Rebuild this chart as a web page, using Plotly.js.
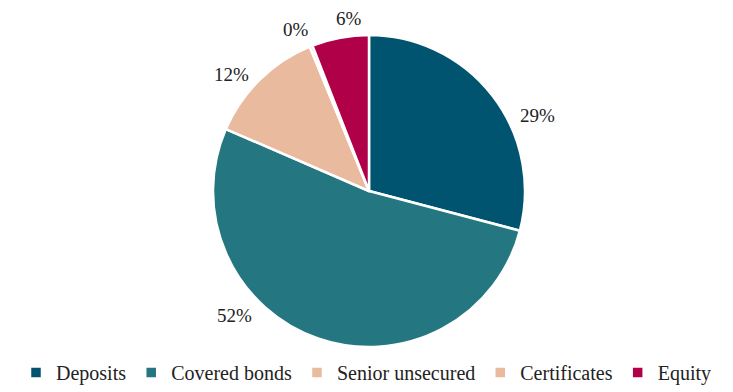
<!DOCTYPE html>
<html>
<head>
<meta charset="utf-8">
<script src="https://cdn.plot.ly/plotly-3.0.1.min.js"></script>
<style>html,body{margin:0;padding:0;background:#fff;}#chart{width:733px;height:392px;}</style>
</head>
<body>
<div id="chart"></div>
<script>
const categories = ["Deposits", "Covered bonds", "Senior unsecured", "Certificates", "Equity"];
const shares = [29.1, 52.4, 12.3, 0.3, 5.9];
const colors = ["#00546f", "#247780", "#e9ba9e", "#e9ba9e", "#b00048"];

// Label anchor positions (paper coordinates), one per slice, as in the reference layout
const labelX = [0.7308, 0.3146, 0.3118, 0.3997, 0.4725];
const labelY = [0.7404, 0.0994, 0.8718, 1.0192, 1.0513];

const FONT = "'Liberation Serif', 'Times New Roman', serif";
const total = shares.reduce((a, b) => a + b, 0);

const trace = {
  type: "pie",
  labels: categories,
  values: shares,
  sort: false,
  direction: "clockwise",
  rotation: 0,
  marker: {colors: colors, line: {color: "#ffffff", width: 2.5}},
  textinfo: "none",
  hoverinfo: "label+percent",
  automargin: false
};

const annotations = categories.map((c, i) => ({
  xref: "paper", yref: "paper",
  x: labelX[i], y: labelY[i],
  xanchor: "center", yanchor: "middle",
  text: Math.round(shares[i] / total * 100) + "%",
  showarrow: false,
  font: {family: FONT, size: 19, color: "#222222"}
}));

const layout = {
  width: 733,
  height: 392,
  margin: {l: 5, r: 0, t: 35, b: 45},
  paper_bgcolor: "#ffffff",
  showlegend: true,
  annotations: annotations,
  legend: {
    orientation: "h",
    xref: "container", yref: "container",
    x: 0.5, xanchor: "center",
    y: -0.026, yanchor: "bottom",
    font: {family: FONT, size: 20, color: "#222222"},
    itemwidth: 30,
    traceorder: "normal"
  }
};

Plotly.newPlot("chart", [trace], layout, {displayModeBar: false, staticPlot: true});
</script>
</body>
</html>
